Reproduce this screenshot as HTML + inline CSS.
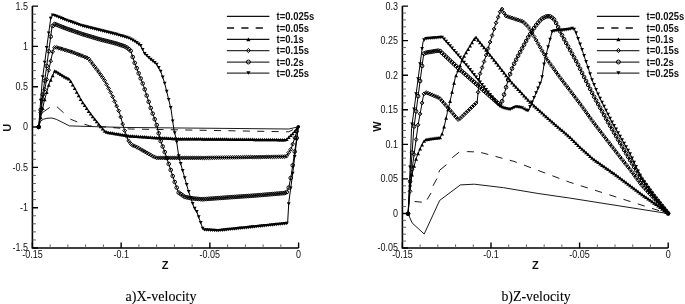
<!DOCTYPE html><html><head><meta charset="utf-8"><style>html,body{margin:0;padding:0;background:#fff}svg{display:block;will-change:transform}</style></head><body><svg width="685" height="304" viewBox="0 0 685 304">
<style>.tl{font:9px "Liberation Sans",sans-serif;fill:#111}.ax{font:bold 11px "Liberation Sans",sans-serif;fill:#111}.lg{font:bold 9.5px "Liberation Sans",sans-serif;fill:#111}.cap{font:14px "Liberation Serif",serif;fill:#000;stroke:#000;stroke-width:0.1}</style>
<rect width="685" height="304" fill="#fff"/>
<path d="M32.4 6.1V248H298.6" fill="none" stroke="#000" stroke-width="1.6"/>
<path d="M32.4 6.1h5.6 M32.4 46.42h5.6 M32.4 86.73h5.6 M32.4 127.05h5.6 M32.4 167.37h5.6 M32.4 207.68h5.6 M32.4 248h5.6 M32.4 248v-5.6 M121.13 248v-5.6 M209.87 248v-5.6 M298.6 248v-5.6" fill="none" stroke="#000" stroke-width="1.4"/>
<path d="M32.4 14.16h3.6 M32.4 22.23h3.6 M32.4 30.29h3.6 M32.4 38.35h3.6 M32.4 54.48h3.6 M32.4 62.54h3.6 M32.4 70.61h3.6 M32.4 78.67h3.6 M32.4 94.8h3.6 M32.4 102.86h3.6 M32.4 110.92h3.6 M32.4 118.99h3.6 M32.4 135.11h3.6 M32.4 143.18h3.6 M32.4 151.24h3.6 M32.4 159.3h3.6 M32.4 175.43h3.6 M32.4 183.49h3.6 M32.4 191.56h3.6 M32.4 199.62h3.6 M32.4 215.75h3.6 M32.4 223.81h3.6 M32.4 231.87h3.6 M32.4 239.94h3.6 M50.15 248v-3.6 M67.89 248v-3.6 M85.64 248v-3.6 M103.39 248v-3.6 M138.88 248v-3.6 M156.63 248v-3.6 M174.37 248v-3.6 M192.12 248v-3.6 M227.61 248v-3.6 M245.36 248v-3.6 M263.11 248v-3.6 M280.85 248v-3.6" fill="none" stroke="#555" stroke-width="0.9"/>
<text transform="translate(28.1 9.5) scale(1 1.15)" text-anchor="end" class="tl">1.5</text>
<text transform="translate(28.1 49.82) scale(1 1.15)" text-anchor="end" class="tl">1</text>
<text transform="translate(28.1 90.13) scale(1 1.15)" text-anchor="end" class="tl">0.5</text>
<text transform="translate(28.1 130.45) scale(1 1.15)" text-anchor="end" class="tl">0</text>
<text transform="translate(28.1 170.77) scale(1 1.15)" text-anchor="end" class="tl">-0.5</text>
<text transform="translate(28.1 211.08) scale(1 1.15)" text-anchor="end" class="tl">-1</text>
<text transform="translate(28.1 251.4) scale(1 1.15)" text-anchor="end" class="tl">-1.5</text>
<text transform="translate(32.4 258.2) scale(1 1.15)" text-anchor="middle" class="tl">-0.15</text>
<text transform="translate(121.13 258.2) scale(1 1.15)" text-anchor="middle" class="tl">-0.1</text>
<text transform="translate(209.87 258.2) scale(1 1.15)" text-anchor="middle" class="tl">-0.05</text>
<text transform="translate(298.6 258.2) scale(1 1.15)" text-anchor="middle" class="tl">0</text>
<path d="M402.4 6.1V248H668.2" fill="none" stroke="#000" stroke-width="1.6"/>
<path d="M402.4 6.1h5.6 M402.4 40.66h5.6 M402.4 75.21h5.6 M402.4 109.77h5.6 M402.4 144.33h5.6 M402.4 178.89h5.6 M402.4 213.44h5.6 M402.4 248h5.6 M402.4 248v-5.6 M491 248v-5.6 M579.6 248v-5.6 M668.2 248v-5.6" fill="none" stroke="#000" stroke-width="1.4"/>
<path d="M402.4 13.01h3.6 M402.4 19.92h3.6 M402.4 26.83h3.6 M402.4 33.75h3.6 M402.4 47.57h3.6 M402.4 54.48h3.6 M402.4 61.39h3.6 M402.4 68.3h3.6 M402.4 82.13h3.6 M402.4 89.04h3.6 M402.4 95.95h3.6 M402.4 102.86h3.6 M402.4 116.68h3.6 M402.4 123.59h3.6 M402.4 130.51h3.6 M402.4 137.42h3.6 M402.4 151.24h3.6 M402.4 158.15h3.6 M402.4 165.06h3.6 M402.4 171.97h3.6 M402.4 185.8h3.6 M402.4 192.71h3.6 M402.4 199.62h3.6 M402.4 206.53h3.6 M402.4 220.35h3.6 M402.4 227.27h3.6 M402.4 234.18h3.6 M402.4 241.09h3.6 M420.12 248v-3.6 M437.84 248v-3.6 M455.56 248v-3.6 M473.28 248v-3.6 M508.72 248v-3.6 M526.44 248v-3.6 M544.16 248v-3.6 M561.88 248v-3.6 M597.32 248v-3.6 M615.04 248v-3.6 M632.76 248v-3.6 M650.48 248v-3.6" fill="none" stroke="#555" stroke-width="0.9"/>
<text transform="translate(398.1 9.5) scale(1 1.15)" text-anchor="end" class="tl">0.3</text>
<text transform="translate(398.1 44.06) scale(1 1.15)" text-anchor="end" class="tl">0.25</text>
<text transform="translate(398.1 78.61) scale(1 1.15)" text-anchor="end" class="tl">0.2</text>
<text transform="translate(398.1 113.17) scale(1 1.15)" text-anchor="end" class="tl">0.15</text>
<text transform="translate(398.1 147.73) scale(1 1.15)" text-anchor="end" class="tl">0.1</text>
<text transform="translate(398.1 182.29) scale(1 1.15)" text-anchor="end" class="tl">0.05</text>
<text transform="translate(398.1 216.84) scale(1 1.15)" text-anchor="end" class="tl">0</text>
<text transform="translate(398.1 251.4) scale(1 1.15)" text-anchor="end" class="tl">-0.05</text>
<text transform="translate(402.4 258.2) scale(1 1.15)" text-anchor="middle" class="tl">-0.15</text>
<text transform="translate(491 258.2) scale(1 1.15)" text-anchor="middle" class="tl">-0.1</text>
<text transform="translate(579.6 258.2) scale(1 1.15)" text-anchor="middle" class="tl">-0.05</text>
<text transform="translate(668.2 258.2) scale(1 1.15)" text-anchor="middle" class="tl">0</text>
<text class="ax" transform="translate(10.6 127.7) rotate(-90)" text-anchor="middle">U</text>
<text class="ax" transform="translate(381.1 126.6) rotate(-90)" text-anchor="middle">W</text>
<text class="ax" x="165" y="268.7" text-anchor="middle">Z</text>
<text class="ax" x="535.3" y="268.7" text-anchor="middle">Z</text>
<text class="cap" x="125.6" y="301" textLength="70.9" lengthAdjust="spacingAndGlyphs">a)X-velocity</text>
<text class="cap" x="501.4" y="301" textLength="69.3" lengthAdjust="spacingAndGlyphs">b)Z-velocity</text>
<path d="M38.7 127 L40.5 121.3 L43.2 119.3 L47 118.3 L51.7 118 L56.3 119.3 L69.5 125.9 L99.7 126.8 L130 127.5 L288.8 129 L298.3 126.8" fill="none" stroke="#000" stroke-width="0.9" stroke-linejoin="round"/>
<path d="M38.7 127 L39.26 123.93 M43.09 112.09 L49.7 107.5 L49.84 107.44 M57.07 106.87 L63.6 112.8 L63.6 112.8 M70.32 118.87 L70.8 119.3 L77.26 121.94 M84.49 124.21 L89.6 125.8 L91.53 125.95 M98.82 126.53 L105.92 127.09 M113.21 127.67 L120.31 128.23 M127.6 128.81 L130 129 L134.7 129.08 M142 129.21 L149.1 129.34 M156.4 129.47 L163.5 129.59 M170.8 129.72 L177.9 129.84 M185.2 129.97 L192.3 130.1 M199.6 130.23 L206.7 130.35 M214 130.48 L221.1 130.61 M228.4 130.74 L235.5 130.86 M242.8 130.99 L249.9 131.11 M257.2 131.24 L264.3 131.37 M271.6 131.5 L278.7 131.62 M286 131.75 L288.8 131.8 L292.97 129.6" fill="none" stroke="#000" stroke-width="0.9" stroke-linejoin="round"/>
<path d="M38.7 127 L44 102 L49 84 L54.8 70.7 L65 76.9 L69.6 79.2 L74.2 87.3 L81.1 100 L88 110.3 L95 119.5 L100.7 126.5 L105.3 131.8 L111.1 132.8 L129.3 135.8 L154 137.5 L178.9 138.7 L204.4 138.9 L286.3 139.7 L293.8 132.3 L298.3 126.8" fill="none" stroke="#000" stroke-width="1.0" stroke-linejoin="round"/>
<g fill="#000" stroke="none"><path d="M38.7 125.25L40.65 128.75H36.75Z"/><path d="M40.7 115.82L42.65 119.32H38.75Z"/><path d="M42.7 106.38L44.65 109.88H40.75Z"/><path d="M44.7 97.73L46.65 101.23H42.75Z"/><path d="M46.7 90.53L48.65 94.03H44.75Z"/><path d="M48.7 83.33L50.65 86.83H46.75Z"/><path d="M50.7 78.35L52.65 81.85H48.75Z"/><path d="M52.7 73.77L54.65 77.27H50.75Z"/><path d="M54.7 69.18L56.65 72.68H52.75Z"/><path d="M56.7 70.1L58.65 73.6H54.75Z"/><path d="M58.7 71.32L60.65 74.82H56.75Z"/><path d="M60.7 72.54L62.65 76.04H58.75Z"/><path d="M62.7 73.75L64.65 77.25H60.75Z"/><path d="M64.7 74.97L66.65 78.47H62.75Z"/><path d="M66.7 76L68.65 79.5H64.75Z"/><path d="M68.7 77L70.65 80.5H66.75Z"/><path d="M70.7 79.39L72.65 82.89H68.75Z"/><path d="M72.7 82.91L74.65 86.41H70.75Z"/><path d="M74.7 86.47L76.65 89.97H72.75Z"/><path d="M76.7 90.15L78.65 93.65H74.75Z"/><path d="M78.7 93.83L80.65 97.33H76.75Z"/><path d="M80.7 97.51L82.65 101.01H78.75Z"/><path d="M82.7 100.64L84.65 104.14H80.75Z"/><path d="M84.7 103.62L86.65 107.12H82.75Z"/><path d="M86.7 106.61L88.65 110.11H84.75Z"/><path d="M88.7 109.47L90.65 112.97H86.75Z"/><path d="M90.7 112.1L92.65 115.6H88.75Z"/><path d="M92.7 114.73L94.65 118.23H90.75Z"/><path d="M94.7 117.36L96.65 120.86H92.75Z"/><path d="M96.7 119.84L98.65 123.34H94.75Z"/><path d="M98.7 122.29L100.65 125.79H96.75Z"/><path d="M100.7 124.75L102.65 128.25H98.75Z"/><path d="M102.7 127.05L104.65 130.55H100.75Z"/><path d="M104.7 129.36L106.65 132.86H102.75Z"/><path d="M106.7 130.29L108.65 133.79H104.75Z"/><path d="M108.7 130.64L110.65 134.14H106.75Z"/><path d="M110.7 130.98L112.65 134.48H108.75Z"/><path d="M112.7 131.31L114.65 134.81H110.75Z"/><path d="M114.7 131.64L116.65 135.14H112.75Z"/><path d="M116.7 131.97L118.65 135.47H114.75Z"/><path d="M118.7 132.3L120.65 135.8H116.75Z"/><path d="M120.7 132.63L122.65 136.13H118.75Z"/><path d="M122.7 132.96L124.65 136.46H120.75Z"/><path d="M124.7 133.29L126.65 136.79H122.75Z"/><path d="M126.7 133.62L128.65 137.12H124.75Z"/><path d="M128.7 133.95L130.65 137.45H126.75Z"/><path d="M130.7 134.15L132.65 137.65H128.75Z"/><path d="M132.7 134.28L134.65 137.78H130.75Z"/><path d="M134.7 134.42L136.65 137.92H132.75Z"/><path d="M136.7 134.56L138.65 138.06H134.75Z"/><path d="M138.7 134.7L140.65 138.2H136.75Z"/><path d="M140.7 134.83L142.65 138.33H138.75Z"/><path d="M142.7 134.97L144.65 138.47H140.75Z"/><path d="M144.7 135.11L146.65 138.61H142.75Z"/><path d="M146.7 135.25L148.65 138.75H144.75Z"/><path d="M148.7 135.39L150.65 138.89H146.75Z"/><path d="M150.7 135.52L152.65 139.02H148.75Z"/><path d="M152.7 135.66L154.65 139.16H150.75Z"/><path d="M154.7 135.78L156.65 139.28H152.75Z"/><path d="M156.7 135.88L158.65 139.38H154.75Z"/><path d="M158.7 135.98L160.65 139.48H156.75Z"/><path d="M160.7 136.07L162.65 139.57H158.75Z"/><path d="M162.7 136.17L164.65 139.67H160.75Z"/><path d="M164.7 136.27L166.65 139.77H162.75Z"/><path d="M166.7 136.36L168.65 139.86H164.75Z"/><path d="M168.7 136.46L170.65 139.96H166.75Z"/><path d="M170.7 136.55L172.65 140.05H168.75Z"/><path d="M172.7 136.65L174.65 140.15H170.75Z"/><path d="M174.7 136.75L176.65 140.25H172.75Z"/><path d="M176.7 136.84L178.65 140.34H174.75Z"/><path d="M178.7 136.94L180.65 140.44H176.75Z"/><path d="M180.7 136.96L182.65 140.46H178.75Z"/><path d="M182.7 136.98L184.65 140.48H180.75Z"/><path d="M184.7 137L186.65 140.5H182.75Z"/><path d="M186.7 137.01L188.65 140.51H184.75Z"/><path d="M188.7 137.03L190.65 140.53H186.75Z"/><path d="M190.7 137.04L192.65 140.54H188.75Z"/><path d="M192.7 137.06L194.65 140.56H190.75Z"/><path d="M194.7 137.07L196.65 140.57H192.75Z"/><path d="M196.7 137.09L198.65 140.59H194.75Z"/><path d="M198.7 137.11L200.65 140.61H196.75Z"/><path d="M200.7 137.12L202.65 140.62H198.75Z"/><path d="M202.7 137.14L204.65 140.64H200.75Z"/><path d="M204.7 137.15L206.65 140.65H202.75Z"/><path d="M206.7 137.17L208.65 140.67H204.75Z"/><path d="M208.7 137.19L210.65 140.69H206.75Z"/><path d="M210.7 137.21L212.65 140.71H208.75Z"/><path d="M212.7 137.23L214.65 140.73H210.75Z"/><path d="M214.7 137.25L216.65 140.75H212.75Z"/><path d="M216.7 137.27L218.65 140.77H214.75Z"/><path d="M218.7 137.29L220.65 140.79H216.75Z"/><path d="M220.7 137.31L222.65 140.81H218.75Z"/><path d="M222.7 137.33L224.65 140.83H220.75Z"/><path d="M224.7 137.35L226.65 140.85H222.75Z"/><path d="M226.7 137.37L228.65 140.87H224.75Z"/><path d="M228.7 137.39L230.65 140.89H226.75Z"/><path d="M230.7 137.41L232.65 140.91H228.75Z"/><path d="M232.7 137.43L234.65 140.93H230.75Z"/><path d="M234.7 137.45L236.65 140.95H232.75Z"/><path d="M236.7 137.47L238.65 140.97H234.75Z"/><path d="M238.7 137.49L240.65 140.99H236.75Z"/><path d="M240.7 137.5L242.65 141H238.75Z"/><path d="M242.7 137.52L244.65 141.02H240.75Z"/><path d="M244.7 137.54L246.65 141.04H242.75Z"/><path d="M246.7 137.56L248.65 141.06H244.75Z"/><path d="M248.7 137.58L250.65 141.08H246.75Z"/><path d="M250.7 137.6L252.65 141.1H248.75Z"/><path d="M252.7 137.62L254.65 141.12H250.75Z"/><path d="M254.7 137.64L256.65 141.14H252.75Z"/><path d="M256.7 137.66L258.65 141.16H254.75Z"/><path d="M258.7 137.68L260.65 141.18H256.75Z"/><path d="M260.7 137.7L262.65 141.2H258.75Z"/><path d="M262.7 137.72L264.65 141.22H260.75Z"/><path d="M264.7 137.74L266.65 141.24H262.75Z"/><path d="M266.7 137.76L268.65 141.26H264.75Z"/><path d="M268.7 137.78L270.65 141.28H266.75Z"/><path d="M270.7 137.8L272.65 141.3H268.75Z"/><path d="M272.7 137.82L274.65 141.32H270.75Z"/><path d="M274.7 137.84L276.65 141.34H272.75Z"/><path d="M276.7 137.86L278.65 141.36H274.75Z"/><path d="M278.7 137.88L280.65 141.38H276.75Z"/><path d="M280.7 137.9L282.65 141.4H278.75Z"/><path d="M282.7 137.91L284.65 141.41H280.75Z"/><path d="M284.7 137.93L286.65 141.43H282.75Z"/><path d="M286.7 137.56L288.65 141.06H284.75Z"/><path d="M288.7 135.58L290.65 139.08H286.75Z"/><path d="M290.7 133.61L292.65 137.11H288.75Z"/><path d="M292.7 131.64L294.65 135.14H290.75Z"/><path d="M294.7 129.45L296.65 132.95H292.75Z"/><path d="M296.7 127.01L298.65 130.51H294.75Z"/></g>
<path d="M38.7 127 L42.5 100 L47.3 76.6 L53.5 48.2 L55.4 47 L72.2 52.1 L88.3 58.3 L98 71 L104.4 80 L111.9 94.8 L119.3 112.2 L124.3 129.6 L128 140 L131.7 145 L136.7 147 L154 156.9 L156.6 157.9 L200 157.9 L286.3 156.6 L291.3 148.4 L298.3 126.8" fill="none" stroke="#000" stroke-width="1.0" stroke-linejoin="round"/>
<g fill="none" stroke="#000" stroke-width="1.0"><path d="M38.7 125.1L40.6 127L38.7 128.9L36.8 127Z"/><path d="M40.7 110.89L42.6 112.79L40.7 114.69L38.8 112.79Z"/><path d="M42.7 97.12L44.6 99.02L42.7 100.92L40.8 99.02Z"/><path d="M44.7 87.37L46.6 89.27L44.7 91.17L42.8 89.27Z"/><path d="M46.7 77.62L48.6 79.52L46.7 81.42L44.8 79.52Z"/><path d="M48.7 68.29L50.6 70.19L48.7 72.09L46.8 70.19Z"/><path d="M50.7 59.13L52.6 61.03L50.7 62.93L48.8 61.03Z"/><path d="M52.7 49.96L54.6 51.86L52.7 53.76L50.8 51.86Z"/><path d="M54.7 45.54L56.6 47.44L54.7 49.34L52.8 47.44Z"/><path d="M56.7 45.49L58.6 47.39L56.7 49.29L54.8 47.39Z"/><path d="M58.7 46.1L60.6 48L58.7 49.9L56.8 48Z"/><path d="M60.7 46.71L62.6 48.61L60.7 50.51L58.8 48.61Z"/><path d="M62.7 47.32L64.6 49.22L62.7 51.12L60.8 49.22Z"/><path d="M64.7 47.92L66.6 49.82L64.7 51.72L62.8 49.82Z"/><path d="M66.7 48.53L68.6 50.43L66.7 52.33L64.8 50.43Z"/><path d="M68.7 49.14L70.6 51.04L68.7 52.94L66.8 51.04Z"/><path d="M70.7 49.74L72.6 51.64L70.7 53.54L68.8 51.64Z"/><path d="M72.7 50.39L74.6 52.29L72.7 54.19L70.8 52.29Z"/><path d="M74.7 51.16L76.6 53.06L74.7 54.96L72.8 53.06Z"/><path d="M76.7 51.93L78.6 53.83L76.7 55.73L74.8 53.83Z"/><path d="M78.7 52.7L80.6 54.6L78.7 56.5L76.8 54.6Z"/><path d="M80.7 53.47L82.6 55.37L80.7 57.27L78.8 55.37Z"/><path d="M82.7 54.24L84.6 56.14L82.7 58.04L80.8 56.14Z"/><path d="M84.7 55.01L86.6 56.91L84.7 58.81L82.8 56.91Z"/><path d="M86.7 55.78L88.6 57.68L86.7 59.58L84.8 57.68Z"/><path d="M88.7 56.92L90.6 58.82L88.7 60.72L86.8 58.82Z"/><path d="M90.7 59.54L92.6 61.44L90.7 63.34L88.8 61.44Z"/><path d="M92.7 62.16L94.6 64.06L92.7 65.96L90.8 64.06Z"/><path d="M94.7 64.78L96.6 66.68L94.7 68.58L92.8 66.68Z"/><path d="M96.7 67.4L98.6 69.3L96.7 71.2L94.8 69.3Z"/><path d="M98.7 70.08L100.6 71.98L98.7 73.88L96.8 71.98Z"/><path d="M100.7 72.9L102.6 74.8L100.7 76.7L98.8 74.8Z"/><path d="M102.7 75.71L104.6 77.61L102.7 79.51L100.8 77.61Z"/><path d="M104.7 78.69L106.6 80.59L104.7 82.49L102.8 80.59Z"/><path d="M106.7 82.64L108.6 84.54L106.7 86.44L104.8 84.54Z"/><path d="M108.7 86.59L110.6 88.49L108.7 90.39L106.8 88.49Z"/><path d="M110.7 90.53L112.6 92.43L110.7 94.33L108.8 92.43Z"/><path d="M112.7 94.78L114.6 96.68L112.7 98.58L110.8 96.68Z"/><path d="M114.7 99.48L116.6 101.38L114.7 103.28L112.8 101.38Z"/><path d="M116.7 104.19L118.6 106.09L116.7 107.99L114.8 106.09Z"/><path d="M118.7 108.89L120.6 110.79L118.7 112.69L116.8 110.79Z"/><path d="M120.7 115.17L122.6 117.07L120.7 118.97L118.8 117.07Z"/><path d="M122.7 122.13L124.6 124.03L122.7 125.93L120.8 124.03Z"/><path d="M124.7 128.82L126.6 130.72L124.7 132.62L122.8 130.72Z"/><path d="M126.7 134.45L128.6 136.35L126.7 138.25L124.8 136.35Z"/><path d="M128.7 139.05L130.6 140.95L128.7 142.85L126.8 140.95Z"/><path d="M130.7 141.75L132.6 143.65L130.7 145.55L128.8 143.65Z"/><path d="M132.7 143.5L134.6 145.4L132.7 147.3L130.8 145.4Z"/><path d="M134.7 144.3L136.6 146.2L134.7 148.1L132.8 146.2Z"/><path d="M136.7 145.1L138.6 147L136.7 148.9L134.8 147Z"/><path d="M138.7 146.24L140.6 148.14L138.7 150.04L136.8 148.14Z"/><path d="M140.7 147.39L142.6 149.29L140.7 151.19L138.8 149.29Z"/><path d="M142.7 148.53L144.6 150.43L142.7 152.33L140.8 150.43Z"/><path d="M144.7 149.68L146.6 151.58L144.7 153.48L142.8 151.58Z"/><path d="M146.7 150.82L148.6 152.72L146.7 154.62L144.8 152.72Z"/><path d="M148.7 151.97L150.6 153.87L148.7 155.77L146.8 153.87Z"/><path d="M150.7 153.11L152.6 155.01L150.7 156.91L148.8 155.01Z"/><path d="M152.7 154.26L154.6 156.16L152.7 158.06L150.8 156.16Z"/><path d="M154.7 155.27L156.6 157.17L154.7 159.07L152.8 157.17Z"/><path d="M156.7 156L158.6 157.9L156.7 159.8L154.8 157.9Z"/><path d="M158.7 156L160.6 157.9L158.7 159.8L156.8 157.9Z"/><path d="M160.7 156L162.6 157.9L160.7 159.8L158.8 157.9Z"/><path d="M162.7 156L164.6 157.9L162.7 159.8L160.8 157.9Z"/><path d="M164.7 156L166.6 157.9L164.7 159.8L162.8 157.9Z"/><path d="M166.7 156L168.6 157.9L166.7 159.8L164.8 157.9Z"/><path d="M168.7 156L170.6 157.9L168.7 159.8L166.8 157.9Z"/><path d="M170.7 156L172.6 157.9L170.7 159.8L168.8 157.9Z"/><path d="M172.7 156L174.6 157.9L172.7 159.8L170.8 157.9Z"/><path d="M174.7 156L176.6 157.9L174.7 159.8L172.8 157.9Z"/><path d="M176.7 156L178.6 157.9L176.7 159.8L174.8 157.9Z"/><path d="M178.7 156L180.6 157.9L178.7 159.8L176.8 157.9Z"/><path d="M180.7 156L182.6 157.9L180.7 159.8L178.8 157.9Z"/><path d="M182.7 156L184.6 157.9L182.7 159.8L180.8 157.9Z"/><path d="M184.7 156L186.6 157.9L184.7 159.8L182.8 157.9Z"/><path d="M186.7 156L188.6 157.9L186.7 159.8L184.8 157.9Z"/><path d="M188.7 156L190.6 157.9L188.7 159.8L186.8 157.9Z"/><path d="M190.7 156L192.6 157.9L190.7 159.8L188.8 157.9Z"/><path d="M192.7 156L194.6 157.9L192.7 159.8L190.8 157.9Z"/><path d="M194.7 156L196.6 157.9L194.7 159.8L192.8 157.9Z"/><path d="M196.7 156L198.6 157.9L196.7 159.8L194.8 157.9Z"/><path d="M198.7 156L200.6 157.9L198.7 159.8L196.8 157.9Z"/><path d="M200.7 155.99L202.6 157.89L200.7 159.79L198.8 157.89Z"/><path d="M202.7 155.96L204.6 157.86L202.7 159.76L200.8 157.86Z"/><path d="M204.7 155.93L206.6 157.83L204.7 159.73L202.8 157.83Z"/><path d="M206.7 155.9L208.6 157.8L206.7 159.7L204.8 157.8Z"/><path d="M208.7 155.87L210.6 157.77L208.7 159.67L206.8 157.77Z"/><path d="M210.7 155.84L212.6 157.74L210.7 159.64L208.8 157.74Z"/><path d="M212.7 155.81L214.6 157.71L212.7 159.61L210.8 157.71Z"/><path d="M214.7 155.78L216.6 157.68L214.7 159.58L212.8 157.68Z"/><path d="M216.7 155.75L218.6 157.65L216.7 159.55L214.8 157.65Z"/><path d="M218.7 155.72L220.6 157.62L218.7 159.52L216.8 157.62Z"/><path d="M220.7 155.69L222.6 157.59L220.7 159.49L218.8 157.59Z"/><path d="M222.7 155.66L224.6 157.56L222.7 159.46L220.8 157.56Z"/><path d="M224.7 155.63L226.6 157.53L224.7 159.43L222.8 157.53Z"/><path d="M226.7 155.6L228.6 157.5L226.7 159.4L224.8 157.5Z"/><path d="M228.7 155.57L230.6 157.47L228.7 159.37L226.8 157.47Z"/><path d="M230.7 155.54L232.6 157.44L230.7 159.34L228.8 157.44Z"/><path d="M232.7 155.51L234.6 157.41L232.7 159.31L230.8 157.41Z"/><path d="M234.7 155.48L236.6 157.38L234.7 159.28L232.8 157.38Z"/><path d="M236.7 155.45L238.6 157.35L236.7 159.25L234.8 157.35Z"/><path d="M238.7 155.42L240.6 157.32L238.7 159.22L236.8 157.32Z"/><path d="M240.7 155.39L242.6 157.29L240.7 159.19L238.8 157.29Z"/><path d="M242.7 155.36L244.6 157.26L242.7 159.16L240.8 157.26Z"/><path d="M244.7 155.33L246.6 157.23L244.7 159.13L242.8 157.23Z"/><path d="M246.7 155.3L248.6 157.2L246.7 159.1L244.8 157.2Z"/><path d="M248.7 155.27L250.6 157.17L248.7 159.07L246.8 157.17Z"/><path d="M250.7 155.24L252.6 157.14L250.7 159.04L248.8 157.14Z"/><path d="M252.7 155.21L254.6 157.11L252.7 159.01L250.8 157.11Z"/><path d="M254.7 155.18L256.6 157.08L254.7 158.98L252.8 157.08Z"/><path d="M256.7 155.15L258.6 157.05L256.7 158.95L254.8 157.05Z"/><path d="M258.7 155.12L260.6 157.02L258.7 158.92L256.8 157.02Z"/><path d="M260.7 155.09L262.6 156.99L260.7 158.89L258.8 156.99Z"/><path d="M262.7 155.06L264.6 156.96L262.7 158.86L260.8 156.96Z"/><path d="M264.7 155.03L266.6 156.93L264.7 158.83L262.8 156.93Z"/><path d="M266.7 155L268.6 156.9L266.7 158.8L264.8 156.9Z"/><path d="M268.7 154.97L270.6 156.87L268.7 158.77L266.8 156.87Z"/><path d="M270.7 154.93L272.6 156.83L270.7 158.73L268.8 156.83Z"/><path d="M272.7 154.9L274.6 156.8L272.7 158.7L270.8 156.8Z"/><path d="M274.7 154.87L276.6 156.77L274.7 158.67L272.8 156.77Z"/><path d="M276.7 154.84L278.6 156.74L276.7 158.64L274.8 156.74Z"/><path d="M278.7 154.81L280.6 156.71L278.7 158.61L276.8 156.71Z"/><path d="M280.7 154.78L282.6 156.68L280.7 158.58L278.8 156.68Z"/><path d="M282.7 154.75L284.6 156.65L282.7 158.55L280.8 156.65Z"/><path d="M284.7 154.72L286.6 156.62L284.7 158.52L282.8 156.62Z"/><path d="M286.7 154.04L288.6 155.94L286.7 157.84L284.8 155.94Z"/><path d="M288.7 150.76L290.6 152.66L288.7 154.56L286.8 152.66Z"/><path d="M290.7 147.48L292.6 149.38L290.7 151.28L288.8 149.38Z"/><path d="M292.7 142.18L294.6 144.08L292.7 145.98L290.8 144.08Z"/><path d="M294.7 136.01L296.6 137.91L294.7 139.81L292.8 137.91Z"/><path d="M296.7 129.84L298.6 131.74L296.7 133.64L294.8 131.74Z"/></g>
<path d="M38.7 127 L41.5 103 L44.8 80 L52 27 L54.1 23.8 L66.4 28.6 L82.9 34.3 L99.3 39.2 L115.8 43.4 L125.7 46.7 L130.6 50.5 L134.2 61.6 L138.2 72.1 L143.4 85.3 L150.5 107.4 L156.6 124.6 L160.3 140 L164 150 L169 164.8 L173.9 179.7 L178.4 192.4 L184.6 196.8 L191.3 198.3 L202 199.3 L229.3 197.3 L254.1 195.6 L286.3 192.9 L288.8 187.4 L291.3 175 L298.3 126.8" fill="none" stroke="#000" stroke-width="1.0" stroke-linejoin="round"/>
<g fill="none" stroke="#000" stroke-width="1.0"><circle cx="38.7" cy="127" r="1.8"/><circle cx="40.7" cy="109.86" r="1.8"/><circle cx="42.7" cy="94.64" r="1.8"/><circle cx="44.7" cy="80.7" r="1.8"/><circle cx="46.7" cy="66.01" r="1.8"/><circle cx="48.7" cy="51.29" r="1.8"/><circle cx="50.7" cy="36.57" r="1.8"/><circle cx="52.7" cy="25.93" r="1.8"/><circle cx="54.7" cy="24.03" r="1.8"/><circle cx="56.7" cy="24.81" r="1.8"/><circle cx="58.7" cy="25.6" r="1.8"/><circle cx="60.7" cy="26.38" r="1.8"/><circle cx="62.7" cy="27.16" r="1.8"/><circle cx="64.7" cy="27.94" r="1.8"/><circle cx="66.7" cy="28.7" r="1.8"/><circle cx="68.7" cy="29.39" r="1.8"/><circle cx="70.7" cy="30.09" r="1.8"/><circle cx="72.7" cy="30.78" r="1.8"/><circle cx="74.7" cy="31.47" r="1.8"/><circle cx="76.7" cy="32.16" r="1.8"/><circle cx="78.7" cy="32.85" r="1.8"/><circle cx="80.7" cy="33.54" r="1.8"/><circle cx="82.7" cy="34.23" r="1.8"/><circle cx="84.7" cy="34.84" r="1.8"/><circle cx="86.7" cy="35.44" r="1.8"/><circle cx="88.7" cy="36.03" r="1.8"/><circle cx="90.7" cy="36.63" r="1.8"/><circle cx="92.7" cy="37.23" r="1.8"/><circle cx="94.7" cy="37.83" r="1.8"/><circle cx="96.7" cy="38.42" r="1.8"/><circle cx="98.7" cy="39.02" r="1.8"/><circle cx="100.7" cy="39.56" r="1.8"/><circle cx="102.7" cy="40.07" r="1.8"/><circle cx="104.7" cy="40.57" r="1.8"/><circle cx="106.7" cy="41.08" r="1.8"/><circle cx="108.7" cy="41.59" r="1.8"/><circle cx="110.7" cy="42.1" r="1.8"/><circle cx="112.7" cy="42.61" r="1.8"/><circle cx="114.7" cy="43.12" r="1.8"/><circle cx="116.7" cy="43.7" r="1.8"/><circle cx="118.7" cy="44.37" r="1.8"/><circle cx="120.7" cy="45.03" r="1.8"/><circle cx="122.7" cy="45.7" r="1.8"/><circle cx="124.7" cy="46.37" r="1.8"/><circle cx="126.7" cy="47.48" r="1.8"/><circle cx="128.7" cy="49.03" r="1.8"/><circle cx="130.7" cy="50.81" r="1.8"/><circle cx="132.7" cy="56.97" r="1.8"/><circle cx="134.7" cy="62.91" r="1.8"/><circle cx="136.7" cy="68.16" r="1.8"/><circle cx="138.7" cy="73.37" r="1.8"/><circle cx="140.7" cy="78.45" r="1.8"/><circle cx="142.7" cy="83.52" r="1.8"/><circle cx="144.7" cy="89.35" r="1.8"/><circle cx="146.7" cy="95.57" r="1.8"/><circle cx="148.7" cy="101.8" r="1.8"/><circle cx="150.7" cy="107.96" r="1.8"/><circle cx="152.7" cy="113.6" r="1.8"/><circle cx="154.7" cy="119.24" r="1.8"/><circle cx="156.7" cy="125.02" r="1.8"/><circle cx="158.7" cy="133.34" r="1.8"/><circle cx="160.7" cy="141.08" r="1.8"/><circle cx="162.7" cy="146.49" r="1.8"/><circle cx="164.7" cy="152.07" r="1.8"/><circle cx="166.7" cy="157.99" r="1.8"/><circle cx="168.7" cy="163.91" r="1.8"/><circle cx="170.7" cy="169.97" r="1.8"/><circle cx="172.7" cy="176.05" r="1.8"/><circle cx="174.7" cy="181.96" r="1.8"/><circle cx="176.7" cy="187.6" r="1.8"/><circle cx="178.7" cy="192.61" r="1.8"/><circle cx="180.7" cy="194.03" r="1.8"/><circle cx="182.7" cy="195.45" r="1.8"/><circle cx="184.7" cy="196.82" r="1.8"/><circle cx="186.7" cy="197.27" r="1.8"/><circle cx="188.7" cy="197.72" r="1.8"/><circle cx="190.7" cy="198.17" r="1.8"/><circle cx="192.7" cy="198.43" r="1.8"/><circle cx="194.7" cy="198.62" r="1.8"/><circle cx="196.7" cy="198.8" r="1.8"/><circle cx="198.7" cy="198.99" r="1.8"/><circle cx="200.7" cy="199.18" r="1.8"/><circle cx="202.7" cy="199.25" r="1.8"/><circle cx="204.7" cy="199.1" r="1.8"/><circle cx="206.7" cy="198.96" r="1.8"/><circle cx="208.7" cy="198.81" r="1.8"/><circle cx="210.7" cy="198.66" r="1.8"/><circle cx="212.7" cy="198.52" r="1.8"/><circle cx="214.7" cy="198.37" r="1.8"/><circle cx="216.7" cy="198.22" r="1.8"/><circle cx="218.7" cy="198.08" r="1.8"/><circle cx="220.7" cy="197.93" r="1.8"/><circle cx="222.7" cy="197.78" r="1.8"/><circle cx="224.7" cy="197.64" r="1.8"/><circle cx="226.7" cy="197.49" r="1.8"/><circle cx="228.7" cy="197.34" r="1.8"/><circle cx="230.7" cy="197.2" r="1.8"/><circle cx="232.7" cy="197.07" r="1.8"/><circle cx="234.7" cy="196.93" r="1.8"/><circle cx="236.7" cy="196.79" r="1.8"/><circle cx="238.7" cy="196.66" r="1.8"/><circle cx="240.7" cy="196.52" r="1.8"/><circle cx="242.7" cy="196.38" r="1.8"/><circle cx="244.7" cy="196.24" r="1.8"/><circle cx="246.7" cy="196.11" r="1.8"/><circle cx="248.7" cy="195.97" r="1.8"/><circle cx="250.7" cy="195.83" r="1.8"/><circle cx="252.7" cy="195.7" r="1.8"/><circle cx="254.7" cy="195.55" r="1.8"/><circle cx="256.7" cy="195.38" r="1.8"/><circle cx="258.7" cy="195.21" r="1.8"/><circle cx="260.7" cy="195.05" r="1.8"/><circle cx="262.7" cy="194.88" r="1.8"/><circle cx="264.7" cy="194.71" r="1.8"/><circle cx="266.7" cy="194.54" r="1.8"/><circle cx="268.7" cy="194.38" r="1.8"/><circle cx="270.7" cy="194.21" r="1.8"/><circle cx="272.7" cy="194.04" r="1.8"/><circle cx="274.7" cy="193.87" r="1.8"/><circle cx="276.7" cy="193.7" r="1.8"/><circle cx="278.7" cy="193.54" r="1.8"/><circle cx="280.7" cy="193.37" r="1.8"/><circle cx="282.7" cy="193.2" r="1.8"/><circle cx="284.7" cy="193.03" r="1.8"/><circle cx="286.7" cy="192.02" r="1.8"/><circle cx="288.7" cy="187.62" r="1.8"/><circle cx="290.7" cy="177.98" r="1.8"/><circle cx="292.7" cy="165.36" r="1.8"/><circle cx="294.7" cy="151.59" r="1.8"/><circle cx="296.7" cy="137.82" r="1.8"/></g>
<path d="M38.7 127 L40.5 103 L42.3 80 L51 16.3 L53 14.9 L66.4 20.3 L82.9 26.1 L99.3 30.2 L115.8 34.3 L125 37 L129 38.2 L135.5 41.8 L140.8 45.8 L144.7 53.7 L150 58.9 L156.6 64.2 L160.5 70.8 L164.5 82.6 L168.4 98.4 L171 109 L173.9 129.6 L176.4 140 L178.9 157.4 L183.8 174.7 L188.8 192.1 L193.8 207 L197 212.2 L203.2 229.8 L218 230.7 L254.1 226.9 L287.6 223.4 L288.8 202.3 L292.5 175 L298.3 126.8" fill="none" stroke="#000" stroke-width="1.0" stroke-linejoin="round"/>
<g fill="#000" stroke="none"><path d="M38.7 128.7L40.6 125.3H36.8Z"/><path d="M40.7 102.14L42.6 98.74H38.8Z"/><path d="M42.7 78.77L44.6 75.37H40.8Z"/><path d="M44.7 64.13L46.6 60.73H42.8Z"/><path d="M46.7 49.48L48.6 46.08H44.8Z"/><path d="M48.7 34.84L50.6 31.44H46.8Z"/><path d="M50.7 20.2L52.6 16.8H48.8Z"/><path d="M52.7 16.81L54.6 13.41H50.8Z"/><path d="M54.7 17.29L56.6 13.89H52.8Z"/><path d="M56.7 18.09L58.6 14.69H54.8Z"/><path d="M58.7 18.9L60.6 15.5H56.8Z"/><path d="M60.7 19.7L62.6 16.3H58.8Z"/><path d="M62.7 20.51L64.6 17.11H60.8Z"/><path d="M64.7 21.31L66.6 17.91H62.8Z"/><path d="M66.7 22.11L68.6 18.71H64.8Z"/><path d="M68.7 22.81L70.6 19.41H66.8Z"/><path d="M70.7 23.51L72.6 20.11H68.8Z"/><path d="M72.7 24.21L74.6 20.81H70.8Z"/><path d="M74.7 24.92L76.6 21.52H72.8Z"/><path d="M76.7 25.62L78.6 22.22H74.8Z"/><path d="M78.7 26.32L80.6 22.92H76.8Z"/><path d="M80.7 27.03L82.6 23.63H78.8Z"/><path d="M82.7 27.73L84.6 24.33H80.8Z"/><path d="M84.7 28.25L86.6 24.85H82.8Z"/><path d="M86.7 28.75L88.6 25.35H84.8Z"/><path d="M88.7 29.25L90.6 25.85H86.8Z"/><path d="M90.7 29.75L92.6 26.35H88.8Z"/><path d="M92.7 30.25L94.6 26.85H90.8Z"/><path d="M94.7 30.75L96.6 27.35H92.8Z"/><path d="M96.7 31.25L98.6 27.85H94.8Z"/><path d="M98.7 31.75L100.6 28.35H96.8Z"/><path d="M100.7 32.25L102.6 28.85H98.8Z"/><path d="M102.7 32.74L104.6 29.34H100.8Z"/><path d="M104.7 33.24L106.6 29.84H102.8Z"/><path d="M106.7 33.74L108.6 30.34H104.8Z"/><path d="M108.7 34.24L110.6 30.84H106.8Z"/><path d="M110.7 34.73L112.6 31.33H108.8Z"/><path d="M112.7 35.23L114.6 31.83H110.8Z"/><path d="M114.7 35.73L116.6 32.33H112.8Z"/><path d="M116.7 36.26L118.6 32.86H114.8Z"/><path d="M118.7 36.85L120.6 33.45H116.8Z"/><path d="M120.7 37.44L122.6 34.04H118.8Z"/><path d="M122.7 38.03L124.6 34.62H120.8Z"/><path d="M124.7 38.61L126.6 35.21H122.8Z"/><path d="M126.7 39.21L128.6 35.81H124.8Z"/><path d="M128.7 39.81L130.6 36.41H126.8Z"/><path d="M130.7 40.84L132.6 37.44H128.8Z"/><path d="M132.7 41.95L134.6 38.55H130.8Z"/><path d="M134.7 43.06L136.6 39.66H132.8Z"/><path d="M136.7 44.41L138.6 41.01H134.8Z"/><path d="M138.7 45.92L140.6 42.52H136.8Z"/><path d="M140.7 47.42L142.6 44.02H138.8Z"/><path d="M142.7 51.35L144.6 47.95H140.8Z"/><path d="M144.7 55.4L146.6 52H142.8Z"/><path d="M146.7 57.36L148.6 53.96H144.8Z"/><path d="M148.7 59.32L150.6 55.92H146.8Z"/><path d="M150.7 61.16L152.6 57.76H148.8Z"/><path d="M152.7 62.77L154.6 59.37H150.8Z"/><path d="M154.7 64.37L156.6 60.97H152.8Z"/><path d="M156.7 66.07L158.6 62.67H154.8Z"/><path d="M158.7 69.45L160.6 66.05H156.8Z"/><path d="M160.7 73.09L162.6 69.69H158.8Z"/><path d="M162.7 78.99L164.6 75.59H160.8Z"/><path d="M164.7 85.11L166.6 81.71H162.8Z"/><path d="M166.7 93.21L168.6 89.81H164.8Z"/><path d="M168.7 101.32L170.6 97.92H166.8Z"/><path d="M170.7 109.48L172.6 106.08H168.8Z"/><path d="M172.7 122.78L174.6 119.38H170.8Z"/><path d="M174.7 134.63L176.6 131.23H172.8Z"/><path d="M176.7 143.79L178.6 140.39H174.8Z"/><path d="M178.7 157.71L180.6 154.31H176.8Z"/><path d="M180.7 165.46L182.6 162.06H178.8Z"/><path d="M182.7 172.52L184.6 169.12H180.8Z"/><path d="M184.7 179.53L186.6 176.13H182.8Z"/><path d="M186.7 186.49L188.6 183.09H184.8Z"/><path d="M188.7 193.45L190.6 190.05H186.8Z"/><path d="M190.7 199.46L192.6 196.06H188.8Z"/><path d="M192.7 205.42L194.6 202.02H190.8Z"/><path d="M194.7 210.16L196.6 206.76H192.8Z"/><path d="M196.7 213.41L198.6 210.01H194.8Z"/><path d="M198.7 218.73L200.6 215.33H196.8Z"/><path d="M200.7 224.4L202.6 221H198.8Z"/><path d="M202.7 230.08L204.6 226.68H200.8Z"/><path d="M204.7 231.59L206.6 228.19H202.8Z"/><path d="M206.7 231.71L208.6 228.31H204.8Z"/><path d="M208.7 231.83L210.6 228.43H206.8Z"/><path d="M210.7 231.96L212.6 228.56H208.8Z"/><path d="M212.7 232.08L214.6 228.68H210.8Z"/><path d="M214.7 232.2L216.6 228.8H212.8Z"/><path d="M216.7 232.32L218.6 228.92H214.8Z"/><path d="M218.7 232.33L220.6 228.93H216.8Z"/><path d="M220.7 232.12L222.6 228.72H218.8Z"/><path d="M222.7 231.91L224.6 228.51H220.8Z"/><path d="M224.7 231.69L226.6 228.29H222.8Z"/><path d="M226.7 231.48L228.6 228.08H224.8Z"/><path d="M228.7 231.27L230.6 227.87H226.8Z"/><path d="M230.7 231.06L232.6 227.66H228.8Z"/><path d="M232.7 230.85L234.6 227.45H230.8Z"/><path d="M234.7 230.64L236.6 227.24H232.8Z"/><path d="M236.7 230.43L238.6 227.03H234.8Z"/><path d="M238.7 230.22L240.6 226.82H236.8Z"/><path d="M240.7 230.01L242.6 226.61H238.8Z"/><path d="M242.7 229.8L244.6 226.4H240.8Z"/><path d="M244.7 229.59L246.6 226.19H242.8Z"/><path d="M246.7 229.38L248.6 225.98H244.8Z"/><path d="M248.7 229.17L250.6 225.77H246.8Z"/><path d="M250.7 228.96L252.6 225.56H248.8Z"/><path d="M252.7 228.75L254.6 225.35H250.8Z"/><path d="M254.7 228.54L256.6 225.14H252.8Z"/><path d="M256.7 228.33L258.6 224.93H254.8Z"/><path d="M258.7 228.12L260.6 224.72H256.8Z"/><path d="M260.7 227.91L262.6 224.51H258.8Z"/><path d="M262.7 227.7L264.6 224.3H260.8Z"/><path d="M264.7 227.49L266.6 224.09H262.8Z"/><path d="M266.7 227.28L268.6 223.88H264.8Z"/><path d="M268.7 227.07L270.6 223.67H266.8Z"/><path d="M270.7 226.87L272.6 223.47H268.8Z"/><path d="M272.7 226.66L274.6 223.26H270.8Z"/><path d="M274.7 226.45L276.6 223.05H272.8Z"/><path d="M276.7 226.24L278.6 222.84H274.8Z"/><path d="M278.7 226.03L280.6 222.63H276.8Z"/><path d="M280.7 225.82L282.6 222.42H278.8Z"/><path d="M282.7 225.61L284.6 222.21H280.8Z"/><path d="M284.7 225.4L286.6 222H282.8Z"/><path d="M286.7 225.19L288.6 221.79H284.8Z"/><path d="M288.7 205.76L290.6 202.36H286.8Z"/><path d="M290.7 189.98L292.6 186.58H288.8Z"/><path d="M292.7 175.04L294.6 171.64H290.8Z"/><path d="M294.7 158.42L296.6 155.02H292.8Z"/><path d="M296.7 141.8L298.6 138.4H294.8Z"/></g>
<path d="M408.1 213.7 L412.1 222.9 L424.2 234 L439.7 200.4 L460.4 184.9 L474.3 184.2 L503.6 187.7 L538.2 193.5 L569.3 198 L668.3 213.6" fill="none" stroke="#000" stroke-width="0.9" stroke-linejoin="round"/>
<path d="M466.82 151.64 L467.4 151.6 L473.92 151.87 M481.2 152.58 L488.24 154.48 M495.49 156.42 L502.53 158.32 M509.77 160.26 L514 161.4 L516.8 162.45 M523.99 165.14 L530.98 167.76 M538.17 170.45 L545.16 173.06 M552.35 175.76 L559.34 178.37 M566.53 181.06 L569.3 182.1 L573.54 183.45 M580.76 185.75 L587.78 187.98 M595 190.28 L602.03 192.51 M609.25 194.81 L616.27 197.04 M623.49 199.34 L630.51 201.58 M637.73 203.87 L644.75 206.11 M651.97 208.4 L658.99 210.64 M666.21 212.94 L668.3 213.6 M414.6 201.56 L421.8 202.14 M427.1 199.6 L431 193 M433 185.8 L436.9 178.6 M438.9 172.45 L439.6 170.3 L446.5 164.6 M452.2 157.7 L459.1 152.2" fill="none" stroke="#000" stroke-width="0.9" stroke-linejoin="round"/>
<path d="M408.1 213.7 L409.9 185.8 L413.2 169.3 L416.4 157.8 L419.7 149.6 L423.7 141.4 L425.5 139.5 L440.4 137.4 L442.7 132.3 L445 123 L447.3 112.7 L449.6 103.5 L455.3 77.5 L463.7 56.6 L475.5 36.8 L492.6 58 L510 80.5 L529.7 101.7 L549.4 119.4 L570 137.2 L580 147.1 L593.2 158.9 L615 174.2 L641.3 194 L655 203.5 L668.3 213.6" fill="none" stroke="#000" stroke-width="1.0" stroke-linejoin="round"/>
<g fill="#000" stroke="none"><path d="M408.1 211.95L410.05 215.45H406.15Z"/><path d="M410.1 183.05L412.05 186.55H408.15Z"/><path d="M412.1 173.05L414.05 176.55H410.15Z"/><path d="M414.1 164.32L416.05 167.82H412.15Z"/><path d="M416.1 157.13L418.05 160.63H414.15Z"/><path d="M418.1 151.83L420.05 155.33H416.15Z"/><path d="M420.1 147.03L422.05 150.53H418.15Z"/><path d="M422.1 142.93L424.05 146.43H420.15Z"/><path d="M424.1 139.23L426.05 142.73H422.15Z"/><path d="M426.1 137.67L428.05 141.17H424.15Z"/><path d="M428.1 137.38L430.05 140.88H426.15Z"/><path d="M430.1 137.1L432.05 140.6H428.15Z"/><path d="M432.1 136.82L434.05 140.32H430.15Z"/><path d="M434.1 136.54L436.05 140.04H432.15Z"/><path d="M436.1 136.26L438.05 139.76H434.15Z"/><path d="M438.1 135.97L440.05 139.47H436.15Z"/><path d="M440.1 135.69L442.05 139.19H438.15Z"/><path d="M442.1 131.88L444.05 135.38H440.15Z"/><path d="M444.1 124.89L446.05 128.39H442.15Z"/><path d="M446.1 116.32L448.05 119.82H444.15Z"/><path d="M448.1 107.75L450.05 111.25H446.15Z"/><path d="M450.1 99.47L452.05 102.97H448.15Z"/><path d="M452.1 90.35L454.05 93.85H450.15Z"/><path d="M454.1 81.22L456.05 84.72H452.15Z"/><path d="M456.1 73.76L458.05 77.26H454.15Z"/><path d="M458.1 68.78L460.05 72.28H456.15Z"/><path d="M460.1 63.81L462.05 67.31H458.15Z"/><path d="M462.1 58.83L464.05 62.33H460.15Z"/><path d="M464.1 54.18L466.05 57.68H462.15Z"/><path d="M466.1 50.82L468.05 54.32H464.15Z"/><path d="M468.1 47.47L470.05 50.97H466.15Z"/><path d="M470.1 44.11L472.05 47.61H468.15Z"/><path d="M472.1 40.76L474.05 44.26H470.15Z"/><path d="M474.1 37.4L476.05 40.9H472.15Z"/><path d="M476.1 35.79L478.05 39.29H474.15Z"/><path d="M478.1 38.27L480.05 41.77H476.15Z"/><path d="M480.1 40.75L482.05 44.25H478.15Z"/><path d="M482.1 43.23L484.05 46.73H480.15Z"/><path d="M484.1 45.71L486.05 49.21H482.15Z"/><path d="M486.1 48.19L488.05 51.69H484.15Z"/><path d="M488.1 50.67L490.05 54.17H486.15Z"/><path d="M490.1 53.15L492.05 56.65H488.15Z"/><path d="M492.1 55.63L494.05 59.13H490.15Z"/><path d="M494.1 58.19L496.05 61.69H492.15Z"/><path d="M496.1 60.78L498.05 64.28H494.15Z"/><path d="M498.1 63.36L500.05 66.86H496.15Z"/><path d="M500.1 65.95L502.05 69.45H498.15Z"/><path d="M502.1 68.53L504.05 72.03H500.15Z"/><path d="M504.1 71.12L506.05 74.62H502.15Z"/><path d="M506.1 73.71L508.05 77.21H504.15Z"/><path d="M508.1 76.29L510.05 79.79H506.15Z"/><path d="M510.1 78.86L512.05 82.36H508.15Z"/><path d="M512.1 81.01L514.05 84.51H510.15Z"/><path d="M514.1 83.16L516.05 86.66H512.15Z"/><path d="M516.1 85.31L518.05 88.81H514.15Z"/><path d="M518.1 87.47L520.05 90.97H516.15Z"/><path d="M520.1 89.62L522.05 93.12H518.15Z"/><path d="M522.1 91.77L524.05 95.27H520.15Z"/><path d="M524.1 93.92L526.05 97.42H522.15Z"/><path d="M526.1 96.08L528.05 99.58H524.15Z"/><path d="M528.1 98.23L530.05 101.73H526.15Z"/><path d="M530.1 100.31L532.05 103.81H528.15Z"/><path d="M532.1 102.11L534.05 105.61H530.15Z"/><path d="M534.1 103.9L536.05 107.4H532.15Z"/><path d="M536.1 105.7L538.05 109.2H534.15Z"/><path d="M538.1 107.5L540.05 111H536.15Z"/><path d="M540.1 109.29L542.05 112.79H538.15Z"/><path d="M542.1 111.09L544.05 114.59H540.15Z"/><path d="M544.1 112.89L546.05 116.39H542.15Z"/><path d="M546.1 114.69L548.05 118.19H544.15Z"/><path d="M548.1 116.48L550.05 119.98H546.15Z"/><path d="M550.1 118.25L552.05 121.75H548.15Z"/><path d="M552.1 119.98L554.05 123.48H550.15Z"/><path d="M554.1 121.71L556.05 125.21H552.15Z"/><path d="M556.1 123.44L558.05 126.94H554.15Z"/><path d="M558.1 125.17L560.05 128.67H556.15Z"/><path d="M560.1 126.9L562.05 130.4H558.15Z"/><path d="M562.1 128.62L564.05 132.12H560.15Z"/><path d="M564.1 130.35L566.05 133.85H562.15Z"/><path d="M566.1 132.08L568.05 135.58H564.15Z"/><path d="M568.1 133.81L570.05 137.31H566.15Z"/><path d="M570.1 135.55L572.05 139.05H568.15Z"/><path d="M572.1 137.53L574.05 141.03H570.15Z"/><path d="M574.1 139.51L576.05 143.01H572.15Z"/><path d="M576.1 141.49L578.05 144.99H574.15Z"/><path d="M578.1 143.47L580.05 146.97H576.15Z"/><path d="M580.1 145.44L582.05 148.94H578.15Z"/><path d="M582.1 147.23L584.05 150.73H580.15Z"/><path d="M584.1 149.02L586.05 152.52H582.15Z"/><path d="M586.1 150.8L588.05 154.3H584.15Z"/><path d="M588.1 152.59L590.05 156.09H586.15Z"/><path d="M590.1 154.38L592.05 157.88H588.15Z"/><path d="M592.1 156.17L594.05 159.67H590.15Z"/><path d="M594.1 157.78L596.05 161.28H592.15Z"/><path d="M596.1 159.19L598.05 162.69H594.15Z"/><path d="M598.1 160.59L600.05 164.09H596.15Z"/><path d="M600.1 161.99L602.05 165.49H598.15Z"/><path d="M602.1 163.4L604.05 166.9H600.15Z"/><path d="M604.1 164.8L606.05 168.3H602.15Z"/><path d="M606.1 166.2L608.05 169.7H604.15Z"/><path d="M608.1 167.61L610.05 171.11H606.15Z"/><path d="M610.1 169.01L612.05 172.51H608.15Z"/><path d="M612.1 170.41L614.05 173.91H610.15Z"/><path d="M614.1 171.82L616.05 175.32H612.15Z"/><path d="M616.1 173.28L618.05 176.78H614.15Z"/><path d="M618.1 174.78L620.05 178.28H616.15Z"/><path d="M620.1 176.29L622.05 179.79H618.15Z"/><path d="M622.1 177.8L624.05 181.3H620.15Z"/><path d="M624.1 179.3L626.05 182.8H622.15Z"/><path d="M626.1 180.81L628.05 184.31H624.15Z"/><path d="M628.1 182.31L630.05 185.81H626.15Z"/><path d="M630.1 183.82L632.05 187.32H628.15Z"/><path d="M632.1 185.32L634.05 188.82H630.15Z"/><path d="M634.1 186.83L636.05 190.33H632.15Z"/><path d="M636.1 188.34L638.05 191.84H634.15Z"/><path d="M638.1 189.84L640.05 193.34H636.15Z"/><path d="M640.1 191.35L642.05 194.85H638.15Z"/><path d="M642.1 192.8L644.05 196.3H640.15Z"/><path d="M644.1 194.19L646.05 197.69H642.15Z"/><path d="M646.1 195.58L648.05 199.08H644.15Z"/><path d="M648.1 196.97L650.05 200.47H646.15Z"/><path d="M650.1 198.35L652.05 201.85H648.15Z"/><path d="M652.1 199.74L654.05 203.24H650.15Z"/><path d="M654.1 201.13L656.05 204.63H652.15Z"/><path d="M656.1 202.59L658.05 206.09H654.15Z"/><path d="M658.1 204.1L660.05 207.6H656.15Z"/><path d="M660.1 205.62L662.05 209.12H658.15Z"/><path d="M662.1 207.14L664.05 210.64H660.15Z"/><path d="M664.1 208.66L666.05 212.16H662.15Z"/><path d="M666.1 210.18L668.05 213.68H664.15Z"/><path d="M668.1 211.7L670.05 215.2H666.15Z"/></g>
<path d="M408.1 213.7 L412 170 L418 125.4 L423.7 94.1 L426.3 92.5 L439.5 98 L458.5 120 L477.2 102 L479.7 74.8 L484.6 60 L495.3 25 L501.5 7.9 L505.4 15.8 L523.2 21.7 L529 27.6 L546.9 59.2 L560 77.5 L570 90.5 L580 103.7 L593.2 122.1 L606.3 139.2 L615 150.5 L619.5 156.3 L630 169.5 L641.3 184.7 L657.1 201.8 L668.3 213.6" fill="none" stroke="#000" stroke-width="1.0" stroke-linejoin="round"/>
<g fill="none" stroke="#000" stroke-width="1.0"><path d="M408.1 211.8L410 213.7L408.1 215.6L406.2 213.7Z"/><path d="M410.1 189.39L412 191.29L410.1 193.19L408.2 191.29Z"/><path d="M412.1 167.36L414 169.26L412.1 171.16L410.2 169.26Z"/><path d="M414.1 152.49L416 154.39L414.1 156.29L412.2 154.39Z"/><path d="M416.1 137.62L418 139.52L416.1 141.42L414.2 139.52Z"/><path d="M418.1 122.95L420 124.85L418.1 126.75L416.2 124.85Z"/><path d="M420.1 111.97L422 113.87L420.1 115.77L418.2 113.87Z"/><path d="M422.1 100.99L424 102.89L422.1 104.79L420.2 102.89Z"/><path d="M424.1 91.95L426 93.85L424.1 95.75L422.2 93.85Z"/><path d="M426.1 90.72L428 92.62L426.1 94.52L424.2 92.62Z"/><path d="M428.1 91.35L430 93.25L428.1 95.15L426.2 93.25Z"/><path d="M430.1 92.18L432 94.08L430.1 95.98L428.2 94.08Z"/><path d="M432.1 93.02L434 94.92L432.1 96.82L430.2 94.92Z"/><path d="M434.1 93.85L436 95.75L434.1 97.65L432.2 95.75Z"/><path d="M436.1 94.68L438 96.58L436.1 98.48L434.2 96.58Z"/><path d="M438.1 95.52L440 97.42L438.1 99.32L436.2 97.42Z"/><path d="M440.1 96.79L442 98.69L440.1 100.59L438.2 98.69Z"/><path d="M442.1 99.11L444 101.01L442.1 102.91L440.2 101.01Z"/><path d="M444.1 101.43L446 103.33L444.1 105.23L442.2 103.33Z"/><path d="M446.1 103.74L448 105.64L446.1 107.54L444.2 105.64Z"/><path d="M448.1 106.06L450 107.96L448.1 109.86L446.2 107.96Z"/><path d="M450.1 108.37L452 110.27L450.1 112.17L448.2 110.27Z"/><path d="M452.1 110.69L454 112.59L452.1 114.49L450.2 112.59Z"/><path d="M454.1 113.01L456 114.91L454.1 116.81L452.2 114.91Z"/><path d="M456.1 115.32L458 117.22L456.1 119.12L454.2 117.22Z"/><path d="M458.1 117.64L460 119.54L458.1 121.44L456.2 119.54Z"/><path d="M460.1 116.56L462 118.46L460.1 120.36L458.2 118.46Z"/><path d="M462.1 114.63L464 116.53L462.1 118.43L460.2 116.53Z"/><path d="M464.1 112.71L466 114.61L464.1 116.51L462.2 114.61Z"/><path d="M466.1 110.78L468 112.68L466.1 114.58L464.2 112.68Z"/><path d="M468.1 108.86L470 110.76L468.1 112.66L466.2 110.76Z"/><path d="M470.1 106.93L472 108.83L470.1 110.73L468.2 108.83Z"/><path d="M472.1 105.01L474 106.91L472.1 108.81L470.2 106.91Z"/><path d="M474.1 103.08L476 104.98L474.1 106.88L472.2 104.98Z"/><path d="M476.1 101.16L478 103.06L476.1 104.96L474.2 103.06Z"/><path d="M478.1 90.31L480 92.21L478.1 94.11L476.2 92.21Z"/><path d="M480.1 71.69L482 73.59L480.1 75.49L478.2 73.59Z"/><path d="M482.1 65.65L484 67.55L482.1 69.45L480.2 67.55Z"/><path d="M484.1 59.61L486 61.51L484.1 63.41L482.2 61.51Z"/><path d="M486.1 53.19L488 55.09L486.1 56.99L484.2 55.09Z"/><path d="M488.1 46.65L490 48.55L488.1 50.45L486.2 48.55Z"/><path d="M490.1 40.11L492 42.01L490.1 43.91L488.2 42.01Z"/><path d="M492.1 33.57L494 35.47L492.1 37.37L490.2 35.47Z"/><path d="M494.1 27.03L496 28.93L494.1 30.83L492.2 28.93Z"/><path d="M496.1 20.89L498 22.79L496.1 24.69L494.2 22.79Z"/><path d="M498.1 15.38L500 17.28L498.1 19.18L496.2 17.28Z"/><path d="M500.1 9.86L502 11.76L500.1 13.66L498.2 11.76Z"/><path d="M502.1 7.22L504 9.12L502.1 11.02L500.2 9.12Z"/><path d="M504.1 11.27L506 13.17L504.1 15.07L502.2 13.17Z"/><path d="M506.1 14.13L508 16.03L506.1 17.93L504.2 16.03Z"/><path d="M508.1 14.79L510 16.69L508.1 18.59L506.2 16.69Z"/><path d="M510.1 15.46L512 17.36L510.1 19.26L508.2 17.36Z"/><path d="M512.1 16.12L514 18.02L512.1 19.92L510.2 18.02Z"/><path d="M514.1 16.78L516 18.68L514.1 20.58L512.2 18.68Z"/><path d="M516.1 17.45L518 19.35L516.1 21.25L514.2 19.35Z"/><path d="M518.1 18.11L520 20.01L518.1 21.91L516.2 20.01Z"/><path d="M520.1 18.77L522 20.67L520.1 22.57L518.2 20.67Z"/><path d="M522.1 19.44L524 21.34L522.1 23.24L520.2 21.34Z"/><path d="M524.1 20.72L526 22.62L524.1 24.52L522.2 22.62Z"/><path d="M526.1 22.75L528 24.65L526.1 26.55L524.2 24.65Z"/><path d="M528.1 24.78L530 26.68L528.1 28.58L526.2 26.68Z"/><path d="M530.1 27.64L532 29.54L530.1 31.44L528.2 29.54Z"/><path d="M532.1 31.17L534 33.07L532.1 34.97L530.2 33.07Z"/><path d="M534.1 34.7L536 36.6L534.1 38.5L532.2 36.6Z"/><path d="M536.1 38.23L538 40.13L536.1 42.03L534.2 40.13Z"/><path d="M538.1 41.76L540 43.66L538.1 45.56L536.2 43.66Z"/><path d="M540.1 45.3L542 47.2L540.1 49.1L538.2 47.2Z"/><path d="M542.1 48.83L544 50.73L542.1 52.63L540.2 50.73Z"/><path d="M544.1 52.36L546 54.26L544.1 56.16L542.2 54.26Z"/><path d="M546.1 55.89L548 57.79L546.1 59.69L544.2 57.79Z"/><path d="M548.1 58.98L550 60.88L548.1 62.78L546.2 60.88Z"/><path d="M550.1 61.77L552 63.67L550.1 65.57L548.2 63.67Z"/><path d="M552.1 64.56L554 66.46L552.1 68.36L550.2 66.46Z"/><path d="M554.1 67.36L556 69.26L554.1 71.16L552.2 69.26Z"/><path d="M556.1 70.15L558 72.05L556.1 73.95L554.2 72.05Z"/><path d="M558.1 72.95L560 74.85L558.1 76.75L556.2 74.85Z"/><path d="M560.1 75.73L562 77.63L560.1 79.53L558.2 77.63Z"/><path d="M562.1 78.33L564 80.23L562.1 82.13L560.2 80.23Z"/><path d="M564.1 80.93L566 82.83L564.1 84.73L562.2 82.83Z"/><path d="M566.1 83.53L568 85.43L566.1 87.33L564.2 85.43Z"/><path d="M568.1 86.13L570 88.03L568.1 89.93L566.2 88.03Z"/><path d="M570.1 88.73L572 90.63L570.1 92.53L568.2 90.63Z"/><path d="M572.1 91.37L574 93.27L572.1 95.17L570.2 93.27Z"/><path d="M574.1 94.01L576 95.91L574.1 97.81L572.2 95.91Z"/><path d="M576.1 96.65L578 98.55L576.1 100.45L574.2 98.55Z"/><path d="M578.1 99.29L580 101.19L578.1 103.09L576.2 101.19Z"/><path d="M580.1 101.94L582 103.84L580.1 105.74L578.2 103.84Z"/><path d="M582.1 104.73L584 106.63L582.1 108.53L580.2 106.63Z"/><path d="M584.1 107.52L586 109.42L584.1 111.32L582.2 109.42Z"/><path d="M586.1 110.3L588 112.2L586.1 114.1L584.2 112.2Z"/><path d="M588.1 113.09L590 114.99L588.1 116.89L586.2 114.99Z"/><path d="M590.1 115.88L592 117.78L590.1 119.68L588.2 117.78Z"/><path d="M592.1 118.67L594 120.57L592.1 122.47L590.2 120.57Z"/><path d="M594.1 121.37L596 123.27L594.1 125.17L592.2 123.27Z"/><path d="M596.1 123.99L598 125.89L596.1 127.79L594.2 125.89Z"/><path d="M598.1 126.6L600 128.5L598.1 130.4L596.2 128.5Z"/><path d="M600.1 129.21L602 131.11L600.1 133.01L598.2 131.11Z"/><path d="M602.1 131.82L604 133.72L602.1 135.62L600.2 133.72Z"/><path d="M604.1 134.43L606 136.33L604.1 138.23L602.2 136.33Z"/><path d="M606.1 137.04L608 138.94L606.1 140.84L604.2 138.94Z"/><path d="M608.1 139.64L610 141.54L608.1 143.44L606.2 141.54Z"/><path d="M610.1 142.24L612 144.14L610.1 146.04L608.2 144.14Z"/><path d="M612.1 144.83L614 146.73L612.1 148.63L610.2 146.73Z"/><path d="M614.1 147.43L616 149.33L614.1 151.23L612.2 149.33Z"/><path d="M616.1 150.02L618 151.92L616.1 153.82L614.2 151.92Z"/><path d="M618.1 152.6L620 154.5L618.1 156.4L616.2 154.5Z"/><path d="M620.1 155.15L622 157.05L620.1 158.95L618.2 157.05Z"/><path d="M622.1 157.67L624 159.57L622.1 161.47L620.2 159.57Z"/><path d="M624.1 160.18L626 162.08L624.1 163.98L622.2 162.08Z"/><path d="M626.1 162.7L628 164.6L626.1 166.5L624.2 164.6Z"/><path d="M628.1 165.21L630 167.11L628.1 169.01L626.2 167.11Z"/><path d="M630.1 167.73L632 169.63L630.1 171.53L628.2 169.63Z"/><path d="M632.1 170.42L634 172.32L632.1 174.22L630.2 172.32Z"/><path d="M634.1 173.12L636 175.02L634.1 176.92L632.2 175.02Z"/><path d="M636.1 175.81L638 177.71L636.1 179.61L634.2 177.71Z"/><path d="M638.1 178.5L640 180.4L638.1 182.3L636.2 180.4Z"/><path d="M640.1 181.19L642 183.09L640.1 184.99L638.2 183.09Z"/><path d="M642.1 183.67L644 185.57L642.1 187.47L640.2 185.57Z"/><path d="M644.1 185.83L646 187.73L644.1 189.63L642.2 187.73Z"/><path d="M646.1 187.99L648 189.89L646.1 191.79L644.2 189.89Z"/><path d="M648.1 190.16L650 192.06L648.1 193.96L646.2 192.06Z"/><path d="M650.1 192.32L652 194.22L650.1 196.12L648.2 194.22Z"/><path d="M652.1 194.49L654 196.39L652.1 198.29L650.2 196.39Z"/><path d="M654.1 196.65L656 198.55L654.1 200.45L652.2 198.55Z"/><path d="M656.1 198.82L658 200.72L656.1 202.62L654.2 200.72Z"/><path d="M658.1 200.95L660 202.85L658.1 204.75L656.2 202.85Z"/><path d="M660.1 203.06L662 204.96L660.1 206.86L658.2 204.96Z"/><path d="M662.1 205.17L664 207.07L662.1 208.97L660.2 207.07Z"/><path d="M664.1 207.28L666 209.18L664.1 211.08L662.2 209.18Z"/><path d="M666.1 209.38L668 211.28L666.1 213.18L664.2 211.28Z"/><path d="M668.1 211.49L670 213.39L668.1 215.29L666.2 213.39Z"/></g>
<path d="M408.1 213.7 L410.5 175 L413.8 128.7 L423.7 53.8 L426.3 52.6 L439.4 50.4 L457.5 67.4 L499.4 104.4 L501 104.8 L504 95 L508.3 79.2 L513 66 L518 56 L523.1 46.6 L528 37.5 L533.5 28.9 L537 24 L541.5 18.9 L546.4 16.4 L549.7 16.1 L553.8 18.9 L557.1 24.7 L559.6 30.4 L565 41 L572 53.5 L578 64.5 L584.6 78 L590.9 90.5 L594.5 97.5 L607.7 121.6 L624.7 151 L641.3 179 L654.5 196.6 L668.3 213.6" fill="none" stroke="#000" stroke-width="1.0" stroke-linejoin="round"/>
<g fill="none" stroke="#000" stroke-width="1.0"><circle cx="408.1" cy="213.7" r="1.8"/><circle cx="410.1" cy="181.45" r="1.8"/><circle cx="412.1" cy="152.55" r="1.8"/><circle cx="414.1" cy="126.43" r="1.8"/><circle cx="416.1" cy="111.3" r="1.8"/><circle cx="418.1" cy="96.17" r="1.8"/><circle cx="420.1" cy="81.04" r="1.8"/><circle cx="422.1" cy="65.91" r="1.8"/><circle cx="424.1" cy="53.62" r="1.8"/><circle cx="426.1" cy="52.69" r="1.8"/><circle cx="428.1" cy="52.3" r="1.8"/><circle cx="430.1" cy="51.96" r="1.8"/><circle cx="432.1" cy="51.63" r="1.8"/><circle cx="434.1" cy="51.29" r="1.8"/><circle cx="436.1" cy="50.95" r="1.8"/><circle cx="438.1" cy="50.62" r="1.8"/><circle cx="440.1" cy="51.06" r="1.8"/><circle cx="442.1" cy="52.94" r="1.8"/><circle cx="444.1" cy="54.81" r="1.8"/><circle cx="446.1" cy="56.69" r="1.8"/><circle cx="448.1" cy="58.57" r="1.8"/><circle cx="450.1" cy="60.45" r="1.8"/><circle cx="452.1" cy="62.33" r="1.8"/><circle cx="454.1" cy="64.21" r="1.8"/><circle cx="456.1" cy="66.09" r="1.8"/><circle cx="458.1" cy="67.93" r="1.8"/><circle cx="460.1" cy="69.7" r="1.8"/><circle cx="462.1" cy="71.46" r="1.8"/><circle cx="464.1" cy="73.23" r="1.8"/><circle cx="466.1" cy="74.99" r="1.8"/><circle cx="468.1" cy="76.76" r="1.8"/><circle cx="470.1" cy="78.53" r="1.8"/><circle cx="472.1" cy="80.29" r="1.8"/><circle cx="474.1" cy="82.06" r="1.8"/><circle cx="476.1" cy="83.82" r="1.8"/><circle cx="478.1" cy="85.59" r="1.8"/><circle cx="480.1" cy="87.36" r="1.8"/><circle cx="482.1" cy="89.12" r="1.8"/><circle cx="484.1" cy="90.89" r="1.8"/><circle cx="486.1" cy="92.66" r="1.8"/><circle cx="488.1" cy="94.42" r="1.8"/><circle cx="490.1" cy="96.19" r="1.8"/><circle cx="492.1" cy="97.95" r="1.8"/><circle cx="494.1" cy="99.72" r="1.8"/><circle cx="496.1" cy="101.49" r="1.8"/><circle cx="498.1" cy="103.25" r="1.8"/><circle cx="500.1" cy="104.58" r="1.8"/><circle cx="502.1" cy="101.21" r="1.8"/><circle cx="504.1" cy="94.63" r="1.8"/><circle cx="506.1" cy="87.28" r="1.8"/><circle cx="508.1" cy="79.93" r="1.8"/><circle cx="510.1" cy="74.14" r="1.8"/><circle cx="512.1" cy="68.53" r="1.8"/><circle cx="514.1" cy="63.8" r="1.8"/><circle cx="516.1" cy="59.8" r="1.8"/><circle cx="518.1" cy="55.82" r="1.8"/><circle cx="520.1" cy="52.13" r="1.8"/><circle cx="522.1" cy="48.44" r="1.8"/><circle cx="524.1" cy="44.74" r="1.8"/><circle cx="526.1" cy="41.03" r="1.8"/><circle cx="528.1" cy="37.34" r="1.8"/><circle cx="530.1" cy="34.22" r="1.8"/><circle cx="532.1" cy="31.09" r="1.8"/><circle cx="534.1" cy="28.06" r="1.8"/><circle cx="536.1" cy="25.26" r="1.8"/><circle cx="538.1" cy="22.75" r="1.8"/><circle cx="540.1" cy="20.49" r="1.8"/><circle cx="542.1" cy="18.59" r="1.8"/><circle cx="544.1" cy="17.57" r="1.8"/><circle cx="546.1" cy="16.55" r="1.8"/><circle cx="548.1" cy="16.25" r="1.8"/><circle cx="550.1" cy="16.37" r="1.8"/><circle cx="552.1" cy="17.74" r="1.8"/><circle cx="554.1" cy="19.43" r="1.8"/><circle cx="556.1" cy="22.94" r="1.8"/><circle cx="558.1" cy="26.98" r="1.8"/><circle cx="560.1" cy="31.38" r="1.8"/><circle cx="562.1" cy="35.31" r="1.8"/><circle cx="564.1" cy="39.23" r="1.8"/><circle cx="566.1" cy="42.96" r="1.8"/><circle cx="568.1" cy="46.54" r="1.8"/><circle cx="570.1" cy="50.11" r="1.8"/><circle cx="572.1" cy="53.68" r="1.8"/><circle cx="574.1" cy="57.35" r="1.8"/><circle cx="576.1" cy="61.02" r="1.8"/><circle cx="578.1" cy="64.7" r="1.8"/><circle cx="580.1" cy="68.8" r="1.8"/><circle cx="582.1" cy="72.89" r="1.8"/><circle cx="584.1" cy="76.98" r="1.8"/><circle cx="586.1" cy="80.98" r="1.8"/><circle cx="588.1" cy="84.94" r="1.8"/><circle cx="590.1" cy="88.91" r="1.8"/><circle cx="592.1" cy="92.83" r="1.8"/><circle cx="594.1" cy="96.72" r="1.8"/><circle cx="596.1" cy="100.42" r="1.8"/><circle cx="598.1" cy="104.07" r="1.8"/><circle cx="600.1" cy="107.72" r="1.8"/><circle cx="602.1" cy="111.38" r="1.8"/><circle cx="604.1" cy="115.03" r="1.8"/><circle cx="606.1" cy="118.68" r="1.8"/><circle cx="608.1" cy="122.29" r="1.8"/><circle cx="610.1" cy="125.75" r="1.8"/><circle cx="612.1" cy="129.21" r="1.8"/><circle cx="614.1" cy="132.67" r="1.8"/><circle cx="616.1" cy="136.13" r="1.8"/><circle cx="618.1" cy="139.59" r="1.8"/><circle cx="620.1" cy="143.04" r="1.8"/><circle cx="622.1" cy="146.5" r="1.8"/><circle cx="624.1" cy="149.96" r="1.8"/><circle cx="626.1" cy="153.36" r="1.8"/><circle cx="628.1" cy="156.73" r="1.8"/><circle cx="630.1" cy="160.11" r="1.8"/><circle cx="632.1" cy="163.48" r="1.8"/><circle cx="634.1" cy="166.86" r="1.8"/><circle cx="636.1" cy="170.23" r="1.8"/><circle cx="638.1" cy="173.6" r="1.8"/><circle cx="640.1" cy="176.98" r="1.8"/><circle cx="642.1" cy="180.07" r="1.8"/><circle cx="644.1" cy="182.73" r="1.8"/><circle cx="646.1" cy="185.4" r="1.8"/><circle cx="648.1" cy="188.07" r="1.8"/><circle cx="650.1" cy="190.73" r="1.8"/><circle cx="652.1" cy="193.4" r="1.8"/><circle cx="654.1" cy="196.07" r="1.8"/><circle cx="656.1" cy="198.57" r="1.8"/><circle cx="658.1" cy="201.03" r="1.8"/><circle cx="660.1" cy="203.5" r="1.8"/><circle cx="662.1" cy="205.96" r="1.8"/><circle cx="664.1" cy="208.43" r="1.8"/><circle cx="666.1" cy="210.89" r="1.8"/><circle cx="668.1" cy="213.35" r="1.8"/></g>
<path d="M408.1 213.7 L410 170 L411.5 128.7 L423 42 L424.7 38.8 L442.4 37.3 L460 57.3 L480 82 L499 106 L503 108 L510 109.6 L515.9 106.8 L521.8 107.8 L527.8 111.2 L530.7 105.6 L541.6 80 L544.9 59.2 L552.2 31.3 L557.1 30.4 L562.9 30.1 L569.5 29.3 L572.8 28.3 L575.2 30.4 L577.8 38 L582 49.5 L588.7 69.6 L591.9 79.5 L597.1 92 L600.1 98.4 L611.7 121.6 L630 153.7 L641.3 178 L654.5 196.6 L668.3 213.6" fill="none" stroke="#000" stroke-width="1.0" stroke-linejoin="round"/>
<g fill="#000" stroke="none"><path d="M408.1 215.4L410 212H406.2Z"/><path d="M410.1 168.95L412 165.55H408.2Z"/><path d="M412.1 125.88L414 122.48H410.2Z"/><path d="M414.1 110.8L416 107.4H412.2Z"/><path d="M416.1 95.72L418 92.32H414.2Z"/><path d="M418.1 80.64L420 77.24H416.2Z"/><path d="M420.1 65.56L422 62.16H418.2Z"/><path d="M422.1 50.49L424 47.09H420.2Z"/><path d="M424.1 41.63L426 38.23H422.2Z"/><path d="M426.1 40.38L428 36.98H424.2Z"/><path d="M428.1 40.21L430 36.81H426.2Z"/><path d="M430.1 40.04L432 36.64H428.2Z"/><path d="M432.1 39.87L434 36.47H430.2Z"/><path d="M434.1 39.7L436 36.3H432.2Z"/><path d="M436.1 39.53L438 36.13H434.2Z"/><path d="M438.1 39.36L440 35.96H436.2Z"/><path d="M440.1 39.19L442 35.79H438.2Z"/><path d="M442.1 39.03L444 35.63H440.2Z"/><path d="M444.1 40.93L446 37.53H442.2Z"/><path d="M446.1 43.2L448 39.8H444.2Z"/><path d="M448.1 45.48L450 42.08H446.2Z"/><path d="M450.1 47.75L452 44.35H448.2Z"/><path d="M452.1 50.02L454 46.62H450.2Z"/><path d="M454.1 52.3L456 48.9H452.2Z"/><path d="M456.1 54.57L458 51.17H454.2Z"/><path d="M458.1 56.84L460 53.44H456.2Z"/><path d="M460.1 59.12L462 55.72H458.2Z"/><path d="M462.1 61.59L464 58.19H460.2Z"/><path d="M464.1 64.06L466 60.66H462.2Z"/><path d="M466.1 66.53L468 63.13H464.2Z"/><path d="M468.1 69L470 65.6H466.2Z"/><path d="M470.1 71.47L472 68.07H468.2Z"/><path d="M472.1 73.94L474 70.54H470.2Z"/><path d="M474.1 76.41L476 73.01H472.2Z"/><path d="M476.1 78.88L478 75.48H474.2Z"/><path d="M478.1 81.35L480 77.95H476.2Z"/><path d="M480.1 83.83L482 80.43H478.2Z"/><path d="M482.1 86.35L484 82.95H480.2Z"/><path d="M484.1 88.88L486 85.48H482.2Z"/><path d="M486.1 91.41L488 88.01H484.2Z"/><path d="M488.1 93.93L490 90.53H486.2Z"/><path d="M490.1 96.46L492 93.06H488.2Z"/><path d="M492.1 98.98L494 95.58H490.2Z"/><path d="M494.1 101.51L496 98.11H492.2Z"/><path d="M496.1 104.04L498 100.64H494.2Z"/><path d="M498.1 106.56L500 103.16H496.2Z"/><path d="M500.1 108.25L502 104.85H498.2Z"/><path d="M502.1 109.25L504 105.85H500.2Z"/><path d="M504.1 109.95L506 106.55H502.2Z"/><path d="M506.1 110.41L508 107.01H504.2Z"/><path d="M508.1 110.87L510 107.47H506.2Z"/><path d="M510.1 111.25L512 107.85H508.2Z"/><path d="M512.1 110.3L514 106.9H510.2Z"/><path d="M514.1 109.35L516 105.95H512.2Z"/><path d="M516.1 108.53L518 105.13H514.2Z"/><path d="M518.1 108.87L520 105.47H516.2Z"/><path d="M520.1 109.21L522 105.81H518.2Z"/><path d="M522.1 109.67L524 106.27H520.2Z"/><path d="M524.1 110.8L526 107.4H522.2Z"/><path d="M526.1 111.94L528 108.54H524.2Z"/><path d="M528.1 112.32L530 108.92H526.2Z"/><path d="M530.1 108.46L532 105.06H528.2Z"/><path d="M532.1 104.01L534 100.61H530.2Z"/><path d="M534.1 99.31L536 95.91H532.2Z"/><path d="M536.1 94.62L538 91.22H534.2Z"/><path d="M538.1 89.92L540 86.52H536.2Z"/><path d="M540.1 85.22L542 81.82H538.2Z"/><path d="M542.1 78.55L544 75.15H540.2Z"/><path d="M544.1 65.94L546 62.54H542.2Z"/><path d="M546.1 56.31L548 52.91H544.2Z"/><path d="M548.1 48.67L550 45.27H546.2Z"/><path d="M550.1 41.03L552 37.63H548.2Z"/><path d="M552.1 33.38L554 29.98H550.2Z"/><path d="M554.1 32.65L556 29.25H552.2Z"/><path d="M556.1 32.28L558 28.88H554.2Z"/><path d="M558.1 32.05L560 28.65H556.2Z"/><path d="M560.1 31.94L562 28.54H558.2Z"/><path d="M562.1 31.84L564 28.44H560.2Z"/><path d="M564.1 31.65L566 28.25H562.2Z"/><path d="M566.1 31.41L568 28.01H564.2Z"/><path d="M568.1 31.17L570 27.77H566.2Z"/><path d="M570.1 30.82L572 27.42H568.2Z"/><path d="M572.1 30.21L574 26.81H570.2Z"/><path d="M574.1 31.14L576 27.74H572.2Z"/><path d="M576.1 34.73L578 31.33H574.2Z"/><path d="M578.1 40.52L580 37.12H576.2Z"/><path d="M580.1 46L582 42.6H578.2Z"/><path d="M582.1 51.5L584 48.1H580.2Z"/><path d="M584.1 57.5L586 54.1H582.2Z"/><path d="M586.1 63.5L588 60.1H584.2Z"/><path d="M588.1 69.5L590 66.1H586.2Z"/><path d="M590.1 75.63L592 72.23H588.2Z"/><path d="M592.1 81.68L594 78.28H590.2Z"/><path d="M594.1 86.49L596 83.09H592.2Z"/><path d="M596.1 91.3L598 87.9H594.2Z"/><path d="M598.1 95.83L600 92.43H596.2Z"/><path d="M600.1 100.1L602 96.7H598.2Z"/><path d="M602.1 104.1L604 100.7H600.2Z"/><path d="M604.1 108.1L606 104.7H602.2Z"/><path d="M606.1 112.1L608 108.7H604.2Z"/><path d="M608.1 116.1L610 112.7H606.2Z"/><path d="M610.1 120.1L612 116.7H608.2Z"/><path d="M612.1 124L614 120.6H610.2Z"/><path d="M614.1 127.51L616 124.11H612.2Z"/><path d="M616.1 131.02L618 127.62H614.2Z"/><path d="M618.1 134.53L620 131.13H616.2Z"/><path d="M620.1 138.03L622 134.63H618.2Z"/><path d="M622.1 141.54L624 138.14H620.2Z"/><path d="M624.1 145.05L626 141.65H622.2Z"/><path d="M626.1 148.56L628 145.16H624.2Z"/><path d="M628.1 152.07L630 148.67H626.2Z"/><path d="M630.1 155.62L632 152.22H628.2Z"/><path d="M632.1 159.92L634 156.52H630.2Z"/><path d="M634.1 164.22L636 160.82H632.2Z"/><path d="M636.1 168.52L638 165.12H634.2Z"/><path d="M638.1 172.82L640 169.42H636.2Z"/><path d="M640.1 177.12L642 173.72H638.2Z"/><path d="M642.1 180.83L644 177.43H640.2Z"/><path d="M644.1 183.65L646 180.25H642.2Z"/><path d="M646.1 186.46L648 183.06H644.2Z"/><path d="M648.1 189.28L650 185.88H646.2Z"/><path d="M650.1 192.1L652 188.7H648.2Z"/><path d="M652.1 194.92L654 191.52H650.2Z"/><path d="M654.1 197.74L656 194.34H652.2Z"/><path d="M656.1 200.27L658 196.87H654.2Z"/><path d="M658.1 202.73L660 199.33H656.2Z"/><path d="M660.1 205.2L662 201.8H658.2Z"/><path d="M662.1 207.66L664 204.26H660.2Z"/><path d="M664.1 210.13L666 206.73H662.2Z"/><path d="M666.1 212.59L668 209.19H664.2Z"/><path d="M668.1 215.05L670 211.65H666.2Z"/></g>
<circle cx="38.7" cy="127" r="1.8" fill="#000"/>
<circle cx="298.3" cy="126.8" r="1.8" fill="#000"/>
<circle cx="408.1" cy="213.7" r="1.8" fill="#000"/>
<circle cx="668.3" cy="213.6" r="1.8" fill="#000"/>
<path d="M226.9 16.3H269.4" stroke="#111" stroke-width="1.25"/>
<text class="lg" transform="translate(276.6 19.8) scale(1 1.12)">t=0.025s</text>
<path d="M226.9 28H262.9" stroke="#111" stroke-width="1.3" stroke-dasharray="7.2 7.2"/>
<text class="lg" transform="translate(276.6 31.5) scale(1 1.12)">t=0.05s</text>
<path d="M226.9 39.4H269.4" stroke="#111" stroke-width="1.25"/>
<g fill="#000" stroke="none"><path d="M248.4 37.48L250.55 41.32H246.25Z"/></g>
<text class="lg" transform="translate(276.6 42.9) scale(1 1.12)">t=0.1s</text>
<path d="M226.9 50.5H269.4" stroke="#333" stroke-width="1.25"/>
<g fill="none" stroke="#000" stroke-width="1.0"><path d="M248.4 48.41L250.49 50.5L248.4 52.59L246.31 50.5Z"/></g>
<text class="lg" transform="translate(276.6 54) scale(1 1.12)">t=0.15s</text>
<path d="M226.9 62H269.4" stroke="#333" stroke-width="1.25"/>
<g fill="none" stroke="#000" stroke-width="1.0"><circle cx="248.4" cy="62" r="1.98"/></g>
<text class="lg" transform="translate(276.6 65.5) scale(1 1.12)">t=0.2s</text>
<path d="M226.9 73H269.4" stroke="#333" stroke-width="1.25"/>
<g fill="#000" stroke="none"><path d="M248.4 74.87L250.49 71.13H246.31Z"/></g>
<text class="lg" transform="translate(276.6 76.5) scale(1 1.12)">t=0.25s</text>
<path d="M596.9 16.3H639.4" stroke="#111" stroke-width="1.25"/>
<text class="lg" transform="translate(646.6 19.8) scale(1 1.12)">t=0.025s</text>
<path d="M596.9 28H632.9" stroke="#111" stroke-width="1.3" stroke-dasharray="7.2 7.2"/>
<text class="lg" transform="translate(646.6 31.5) scale(1 1.12)">t=0.05s</text>
<path d="M596.9 39.4H639.4" stroke="#111" stroke-width="1.25"/>
<g fill="#000" stroke="none"><path d="M618.4 37.48L620.54 41.32H616.25Z"/></g>
<text class="lg" transform="translate(646.6 42.9) scale(1 1.12)">t=0.1s</text>
<path d="M596.9 50.5H639.4" stroke="#333" stroke-width="1.25"/>
<g fill="none" stroke="#000" stroke-width="1.0"><path d="M618.4 48.41L620.49 50.5L618.4 52.59L616.31 50.5Z"/></g>
<text class="lg" transform="translate(646.6 54) scale(1 1.12)">t=0.15s</text>
<path d="M596.9 62H639.4" stroke="#333" stroke-width="1.25"/>
<g fill="none" stroke="#000" stroke-width="1.0"><circle cx="618.4" cy="62" r="1.98"/></g>
<text class="lg" transform="translate(646.6 65.5) scale(1 1.12)">t=0.2s</text>
<path d="M596.9 73H639.4" stroke="#333" stroke-width="1.25"/>
<g fill="#000" stroke="none"><path d="M618.4 74.87L620.49 71.13H616.31Z"/></g>
<text class="lg" transform="translate(646.6 76.5) scale(1 1.12)">t=0.25s</text>
</svg></body></html>
